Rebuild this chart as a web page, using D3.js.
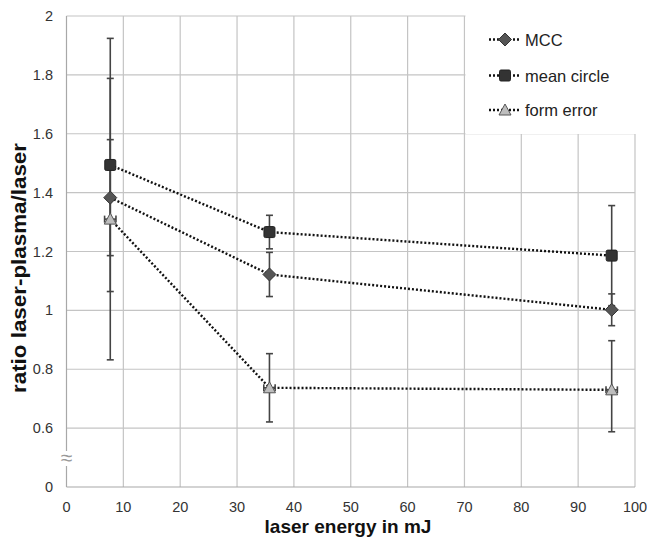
<!DOCTYPE html>
<html><head><meta charset="utf-8">
<script src="https://cdn.jsdelivr.net/npm/d3@7/dist/d3.min.js"></script>
<style>body{margin:0;background:#fff}svg{display:block}text{font-family:"Liberation Sans",Arial,sans-serif}</style>
</head><body><svg id="c" width="647" height="541"></svg>
<script>
// ---- data ----
const energy = [7.7, 35.7, 95.9];
const mcc = [1.383, 1.122, 1.002];
const mccErr = [0.197, 0.075, 0.054];
const meanCircle = [1.494, 1.266, 1.186];
const meanCircleErr = [0.43, 0.057, 0.17];
const formError = [1.31, 0.737, 0.73];
const formErrorErr = [0.478, 0.116, 0.167];
const formErrorXErr = [1.0, 1.0, 1.0];
const xTicks = [0,10,20,30,40,50,60,70,80,90,100];
const yTicks = [0,0.6,0.8,1,1.2,1.4,1.6,1.8,2];
const yTickLabels = ["0","0.6","0.8","1","1.2","1.4","1.6","1.8","2"];
const seriesNames = ["MCC","mean circle","form error"];

const svg = d3.select("#c");
const L=66.5, R=635, T=16, B=487;
const step=(B-T)/8;
const x = d3.scaleLinear().domain([0,100]).range([L,R]);
const y = d3.scaleLinear().domain([0,0.6,2]).range([B,B-step,T]);

// grid
const g = svg.append("g");
g.selectAll(".vg").data(xTicks.slice(1)).join("line")
  .attr("x1",d=>x(d)).attr("x2",d=>x(d)).attr("y1",T).attr("y2",B)
  .attr("stroke","#c4c4c4").attr("stroke-width",1.2);
g.selectAll(".hg").data(yTicks.slice(1)).join("line")
  .attr("x1",L).attr("x2",R).attr("y1",d=>y(d)).attr("y2",d=>y(d))
  .attr("stroke","#c4c4c4").attr("stroke-width",1.2);
// legend background
svg.append("rect").attr("x",x(70)+1).attr("y",T-1).attr("width",R-x(70)+2).attr("height",119).attr("fill","#fff");
// axes
svg.append("line").attr("x1",L).attr("x2",L).attr("y1",T).attr("y2",B).attr("stroke","#a8a8a8").attr("stroke-width",1.2);
svg.append("line").attr("x1",L).attr("x2",R).attr("y1",B).attr("y2",B).attr("stroke","#a8a8a8").attr("stroke-width",1.2);
// break symbol
svg.append("rect").attr("x",L-5).attr("y",451).attr("width",10).attr("height",15).attr("fill","#fff");
svg.append("text").attr("x",L).attr("y",465).attr("text-anchor","middle").attr("font-size",21).attr("fill","#999").text("≈");

// tick labels
svg.selectAll(".xt").data(xTicks).join("text")
  .attr("x",d=>x(d)).attr("y",511.5).attr("text-anchor","middle").attr("font-size",14.5).attr("fill","#333").text(d=>d);
svg.selectAll(".yt").data(yTicks).join("text")
  .attr("x",53).attr("y",d=>y(d)+5).attr("text-anchor","end").attr("font-size",14.5).attr("fill","#333").text((d,i)=>yTickLabels[i]);

// titles
svg.append("text").attr("x",348).attr("y",533).attr("text-anchor","middle").attr("font-size",19).attr("font-weight","bold").attr("fill","#111").text("laser energy in mJ");
svg.append("text").attr("transform","translate(26,268) rotate(-90)").attr("text-anchor","middle").attr("font-size",19.5).attr("font-weight","bold").attr("fill","#111")
  .attr("textLength",250).attr("lengthAdjust","spacingAndGlyphs").text("ratio laser-plasma/laser");

const series = [
  {name:seriesNames[0], v:mcc, e:mccErr, xe:null, shape:"diamond"},
  {name:seriesNames[1], v:meanCircle, e:meanCircleErr, xe:null, shape:"square"},
  {name:seriesNames[2], v:formError, e:formErrorErr, xe:formErrorXErr, shape:"triangle"}
];
function marker(sel, shape, cx, cy){
  if(shape==="diamond"){
    sel.append("path").attr("d",`M${cx},${cy-6.5}L${cx+6.5},${cy}L${cx},${cy+6.5}L${cx-6.5},${cy}Z`)
      .attr("fill","#555").attr("stroke","#333").attr("stroke-width",1);
  } else if(shape==="square"){
    sel.append("rect").attr("x",cx-5.5).attr("y",cy-5.5).attr("width",11).attr("height",11).attr("rx",1.5)
      .attr("fill","#333").attr("stroke","#222").attr("stroke-width",1);
  } else {
    sel.append("path").attr("d",`M${cx},${cy-6}L${cx+6},${cy+5}L${cx-6},${cy+5}Z`)
      .attr("fill","#bdbdbd").attr("stroke","#555").attr("stroke-width",1);
  }
}
const line = d3.line().x(d=>x(d[0])).y(d=>y(d[1]));
// lines
series.forEach(s=>{
  svg.append("path").attr("d",line(energy.map((e,i)=>[e,s.v[i]])))
    .attr("fill","none").attr("stroke","#111").attr("stroke-width",2.4).attr("stroke-dasharray","2,2");
});
// error bars
const eb = svg.append("g").attr("stroke","#444").attr("stroke-width",1.6);
series.forEach(s=>{
  energy.forEach((e,i)=>{
    const cx=x(e), y1=y(s.v[i]+s.e[i]), y2=y(s.v[i]-s.e[i]);
    eb.append("line").attr("x1",cx).attr("x2",cx).attr("y1",y1).attr("y2",y2);
    eb.append("line").attr("x1",cx-3.5).attr("x2",cx+3.5).attr("y1",y1).attr("y2",y1);
    eb.append("line").attr("x1",cx-3.5).attr("x2",cx+3.5).attr("y1",y2).attr("y2",y2);
    if(s.xe){
      const cy=y(s.v[i]), xa=x(e-s.xe[i]), xb=x(e+s.xe[i]);
      eb.append("line").attr("x1",xa).attr("x2",xb).attr("y1",cy).attr("y2",cy);
      eb.append("line").attr("x1",xa).attr("x2",xa).attr("y1",cy-3.5).attr("y2",cy+3.5);
      eb.append("line").attr("x1",xb).attr("x2",xb).attr("y1",cy-3.5).attr("y2",cy+3.5);
    }
  });
});
// markers
series.forEach(s=>{
  const mg=svg.append("g");
  energy.forEach((e,i)=>marker(mg,s.shape,x(e),y(s.v[i])));
});
// legend
const ly=[39.5,75.5,110];
series.forEach((s,i)=>{
  const lg=svg.append("g");
  lg.append("line").attr("x1",489).attr("x2",521).attr("y1",ly[i]).attr("y2",ly[i])
    .attr("stroke","#111").attr("stroke-width",2.4).attr("stroke-dasharray","2,2");
  marker(lg,s.shape,505,ly[i]);
  lg.append("text").attr("x",525).attr("y",ly[i]+6).attr("font-size",16.5).attr("fill","#222").text(s.name);
});
</script></body></html>
